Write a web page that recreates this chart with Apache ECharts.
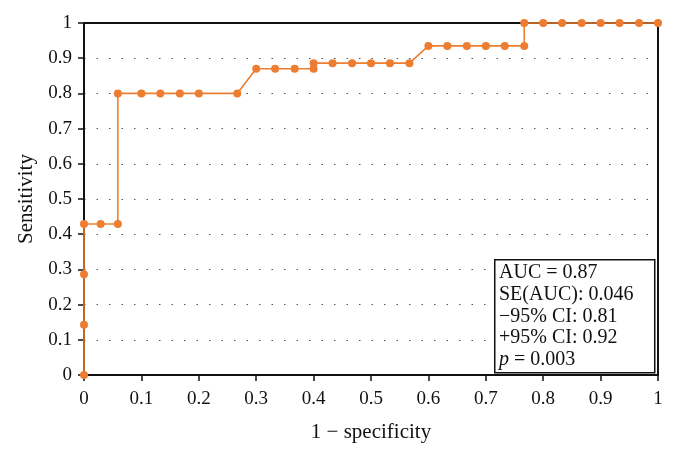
<!DOCTYPE html>
<html><head><meta charset="utf-8">
<script src="https://cdn.jsdelivr.net/npm/echarts@6/dist/echarts.min.js"></script>
<style>html,body{margin:0;padding:0;background:#fff}#c{width:675px;height:457px}</style>
</head><body><div id="c"></div>
<script>
const fpr = [0, 0, 0, 0, 0.029, 0.059, 0.059, 0.1, 0.133, 0.167, 0.2, 0.267, 0.3, 0.333, 0.367, 0.4, 0.4, 0.433, 0.467, 0.5, 0.533, 0.567, 0.6, 0.633, 0.667, 0.7, 0.733, 0.767, 0.767, 0.8, 0.833, 0.867, 0.9, 0.933, 0.967, 1];
const tpr = [0, 0.143, 0.286, 0.429, 0.429, 0.429, 0.8, 0.8, 0.8, 0.8, 0.8, 0.8, 0.87, 0.87, 0.87, 0.87, 0.886, 0.886, 0.886, 0.886, 0.886, 0.886, 0.935, 0.935, 0.935, 0.935, 0.935, 0.935, 1, 1, 1, 1, 1, 1, 1, 1];
const statLines = ["AUC = 0.87", "SE(AUC): 0.046", "\u221295% CI: 0.81", "+95% CI: 0.92"];
const pLine = ["p", " = 0.003"];
const xName = "1 \u2212 specificity";
const yName = "Sensitivity";

const font = "'Liberation Serif', 'DejaVu Serif', serif";
const chart = echarts.init(document.getElementById('c'));
const data = fpr.map((x, i) => [x, tpr[i]]);
chart.setOption({
  animation: false,
  grid: { left: 84, right: 17, top: 23, bottom: 82, show: true, borderColor: '#111', borderWidth: 2, backgroundColor: 'transparent' },
  xAxis: {
    type: 'value', min: 0, max: 1, interval: 0.1,
    name: xName, nameLocation: 'middle', nameGap: 47,
    nameTextStyle: { fontFamily: font, fontSize: 21, color: '#111' },
    axisLine: { show: true, lineStyle: { color: '#111', width: 2 } },
    axisTick: { show: true, length: 6, lineStyle: { color: '#111', width: 1.5 } },
    axisLabel: { fontFamily: font, fontSize: 19, color: '#111', margin: 15 },
    splitLine: { show: false }
  },
  yAxis: {
    type: 'value', min: 0, max: 1, interval: 0.1,
    name: yName, nameLocation: 'middle', nameGap: 47, nameRotate: 90,
    nameTextStyle: { fontFamily: font, fontSize: 21, color: '#111' },
    axisLine: { show: true, lineStyle: { color: '#111', width: 2 } },
    axisTick: { show: true, length: 6, lineStyle: { color: '#111', width: 1.5 } },
    axisLabel: { fontFamily: font, fontSize: 19, color: '#111', margin: 12 },
    splitLine: { show: true, showMinLine: false, showMaxLine: false, lineStyle: { color: '#555', width: 1.2, type: [1.5, 11] } }
  },
  series: [{
    type: 'line', data: data, clip: false,
    symbol: 'circle', symbolSize: 8,
    itemStyle: { color: '#ED7D31' },
    lineStyle: { color: '#ED7D31', width: 1.6 },
    z: 10
  }],
  graphic: [{
    type: 'rect', left: 494, top: 259, z: 20,
    shape: { width: 160, height: 113 },
    style: { fill: '#fff', stroke: '#111', lineWidth: 1.5 }
  }, {
    type: 'text', left: 499, top: 262, z: 21,
    style: {
      text: statLines.join('\n') + '\n{i|' + pLine[0] + '}' + pLine[1],
      font: '20px ' + font, fill: '#111', lineHeight: 21.7,
      rich: { i: { fontStyle: 'italic', fontFamily: font, fontSize: 20, fill: '#111', lineHeight: 21.7 } }
    }
  }]
});
</script></body></html>
